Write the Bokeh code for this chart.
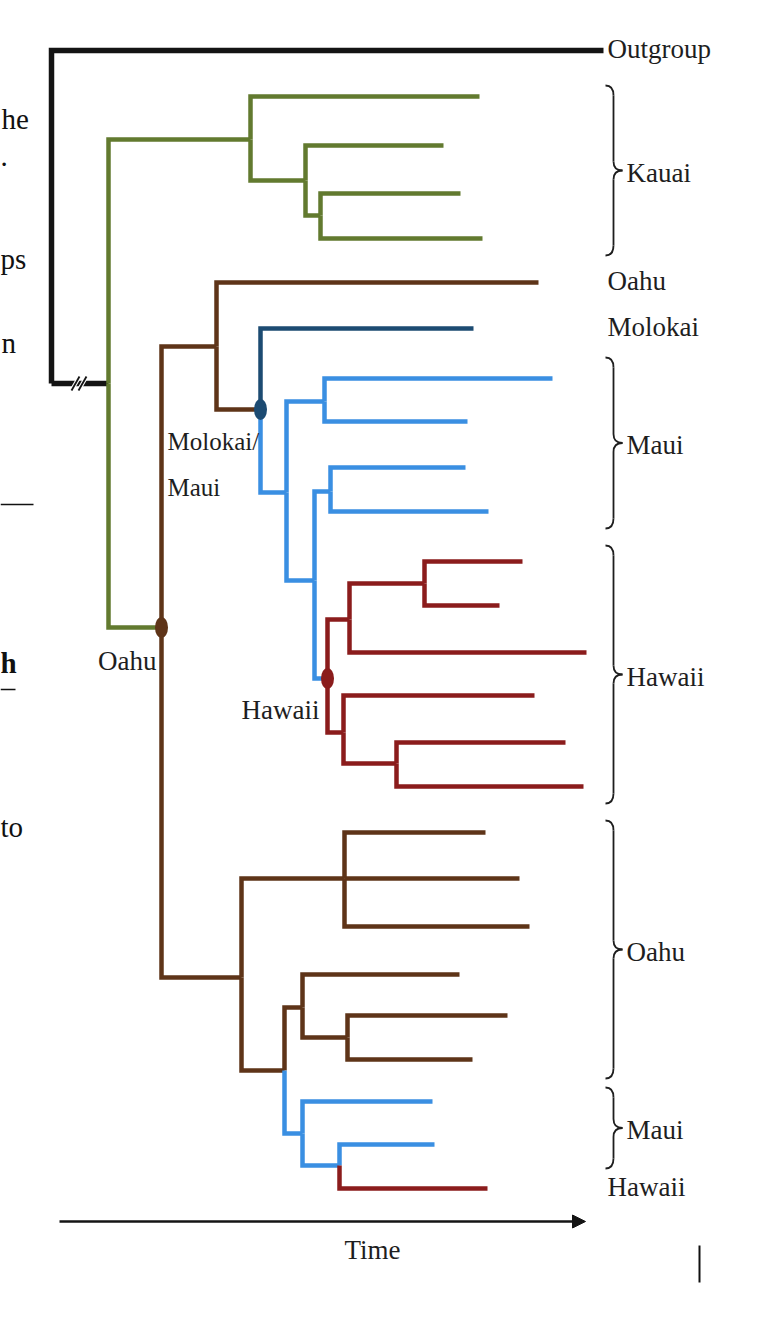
from bokeh.plotting import figure
from bokeh.models import Range1d, Arrow, NormalHead
from bokeh.core.properties import value
from bokeh.embed import file_html
from bokeh.resources import INLINE

# ---------------- data ----------------
# tree nodes: parent index, time position (x), vertical slot (y), island state of the branch leading to the node
node_parent = [None, 0, 0, 2, 3, 3, 5, 5, 7, 7,
               2, 10, 11, 11, 13, 13, 15, 16, 16, 15,
               19, 20, 20, 19, 23, 24, 25, 25, 24, 23,
               29, 29, 31, 31, 10, 34, 35, 35, 35, 34,
               39, 40, 40, 42, 42, 39, 45, 45, 47, 47]
node_time = [51, 603, 108, 250, 479, 305, 443, 320, 460, 482,
             161, 216, 538, 260, 473, 286, 324, 552, 467, 314,
             330, 465, 488, 327, 349, 424, 522, 499, 586, 343,
             534, 396, 565, 583, 241, 344, 485, 519, 529, 284,
             302, 459, 347, 507, 472, 302, 432, 339, 434, 487]
node_pos = [383, 50, 383, 139, 96, 180, 145, 215, 193, 238,
            627, 346, 282, 409, 328, 492, 401, 378, 421, 580,
            491, 467, 511, 678, 619, 583, 561, 605, 652, 732,
            695, 763, 742, 786, 977, 878, 832, 878, 926, 1070,
            1007, 974, 1037, 1015, 1059, 1133, 1101, 1165, 1144, 1188]
node_state = ["Outgroup", "Outgroup", "Outgroup", "Kauai", "Kauai", "Kauai", "Kauai", "Kauai", "Kauai", "Kauai",
              "Kauai", "Oahu", "Oahu", "Oahu", "Molokai", "Maui", "Maui", "Maui", "Maui", "Maui",
              "Maui", "Maui", "Maui", "Maui", "Hawaii", "Hawaii", "Hawaii", "Hawaii", "Hawaii", "Hawaii",
              "Hawaii", "Hawaii", "Hawaii", "Hawaii", "Oahu", "Oahu", "Oahu", "Oahu", "Oahu", "Oahu",
              "Oahu", "Oahu", "Oahu", "Oahu", "Oahu", "Maui", "Maui", "Maui", "Maui", "Hawaii"]

state_colors = {"Outgroup": "#141414", "Kauai": "#627a2f", "Oahu": "#5e3418",
                "Molokai": "#1c4b72", "Maui": "#3a8fe2", "Hawaii": "#8b1c1c"}

# ancestral-state markers (node index, inferred island, label)
anc_nodes = [10, 13, 23]
anc_states = ["Oahu", "Molokai", "Hawaii"]
anc_labels = ["Oahu", "Molokai/\nMaui", "Hawaii"]

# right-hand clade labels
brace_labels = ["Kauai", "Maui", "Hawaii", "Oahu", "Maui"]
brace_top = [85, 357, 545, 820, 1087]
brace_bottom = [255, 528, 803, 1078, 1168]
tip_labels = ["Outgroup", "Oahu", "Molokai", "Hawaii"]
tip_label_nodes = [1, 12, 14, 49]

axis_label = "Time"

# clipped text from neighbouring page
side_texts = ["he", ".", "ps", "n", "to"]
side_text_y = [118, 156, 258, 342, 826]
side_text_left = [1, 0, 0, 1, 0]

# ---------------- figure ----------------
p = figure(width=744, height=1302, x_range=Range1d(0, 744), y_range=Range1d(1302, 0),
           output_backend="svg", toolbar_location=None, min_border=0,
           x_axis_location=None, y_axis_location=None)
p.grid.visible = False
p.outline_line_color = None
p.background_fill_color = "white"

FONT = value("Liberation Serif")
TXT = "#1e1e1e"

# tree branches (elbow style)
xs, ys, cols, widths = [], [], [], []
for i, par in enumerate(node_parent):
    if par is None:
        continue
    px, py = node_time[par], node_pos[par]
    xs.append([px, px, node_time[i]])
    ys.append([py, node_pos[i], node_pos[i]])
    cols.append(state_colors[node_state[i]])
    widths.append(5.5 if node_state[i] == "Outgroup" else 4.5)
p.multi_line(xs=xs, ys=ys, line_color=cols, line_width=widths, line_join="miter", line_cap="butt")

# break marks on the root stem
bx = [node_time[0] + 24, node_time[0] + 31]
by = node_pos[2]
p.segment(x0=[b - 4 for b in bx], y0=[by + 7] * 2, x1=[b + 4 for b in bx], y1=[by - 7] * 2,
          line_color="white", line_width=4)
p.segment(x0=[b - 4 for b in bx], y0=[by + 7] * 2, x1=[b + 4 for b in bx], y1=[by - 7] * 2,
          line_color="#141414", line_width=1.8)

# ancestral markers
p.ellipse(x=[node_time[n] for n in anc_nodes], y=[node_pos[n] for n in anc_nodes],
          width=13, height=21, fill_color=[state_colors[s] for s in anc_states], line_color=None)

# ancestral labels
p.text(x=[156], y=[node_pos[10] + 33], text=[anc_labels[0]], text_font=FONT, text_font_size="27px",
       text_align="right", text_baseline="middle", text_color=TXT)
p.text(x=[167, 167], y=[node_pos[13] + 32, node_pos[13] + 78], text=anc_labels[1].split("\n"),
       text_font=FONT, text_font_size="25px", text_align="left", text_baseline="middle", text_color=TXT)
p.text(x=[319], y=[node_pos[23] + 31], text=[anc_labels[2]], text_font=FONT, text_font_size="27px",
       text_align="right", text_baseline="middle", text_color=TXT)

# braces
bx0, bx1, bx2 = 605, 613, 622
for top, bot, lab in zip(brace_top, brace_bottom, brace_labels):
    mid = (top + bot) / 2
    p.quadratic(x0=[bx0, bx1, bx2, bx1], y0=[top, mid - 9, mid, bot - 10],
                x1=[bx1, bx2, bx1, bx0], y1=[top + 10, mid, mid + 9, bot],
                cx=[bx1, bx1, bx1, bx1], cy=[top, mid, mid, bot],
                line_color=TXT, line_width=1.8)
    p.segment(x0=[bx1, bx1], y0=[top + 10, mid + 9], x1=[bx1, bx1], y1=[mid - 9, bot - 10],
              line_color=TXT, line_width=1.8)
    p.text(x=[bx2 + 4], y=[mid + 2], text=[lab], text_font=FONT, text_font_size="27px",
           text_align="left", text_baseline="middle", text_color=TXT)

p.text(x=[607] * len(tip_labels), y=[node_pos[n] - 2 for n in tip_label_nodes], text=tip_labels,
       text_font=FONT, text_font_size="27px", text_align="left", text_baseline="middle", text_color=TXT)

# time arrow
t0, t1, ty = 59, 585, 1221
p.add_layout(Arrow(end=NormalHead(size=13, fill_color="#141414", line_color="#141414"),
                   x_start=t0, y_start=ty, x_end=t1, y_end=ty, line_width=2.5, line_color="#141414"))
p.text(x=[(t0 + t1) / 2 + 50], y=[ty + 28], text=[axis_label], text_font=FONT, text_font_size="27px",
       text_align="center", text_baseline="middle", text_color=TXT)

# page-edge fragments
p.text(x=side_text_left, y=side_text_y, text=side_texts, text_font=FONT, text_font_size="29px",
       text_align="left", text_baseline="middle", text_color="#111")
p.text(x=[0], y=[662], text=["h"], text_font=FONT, text_font_size="29px", text_font_style="bold",
       text_align="left", text_baseline="middle", text_color="#111")
p.segment(x0=[0, 0], y0=[689, 504], x1=[15, 33], y1=[689, 504], line_color="#111", line_width=1.5)
p.segment(x0=[699], y0=[1245], x1=[699], y1=[1282], line_color="#111", line_width=2)

open("out.html", "w").write(file_html(p, INLINE))
